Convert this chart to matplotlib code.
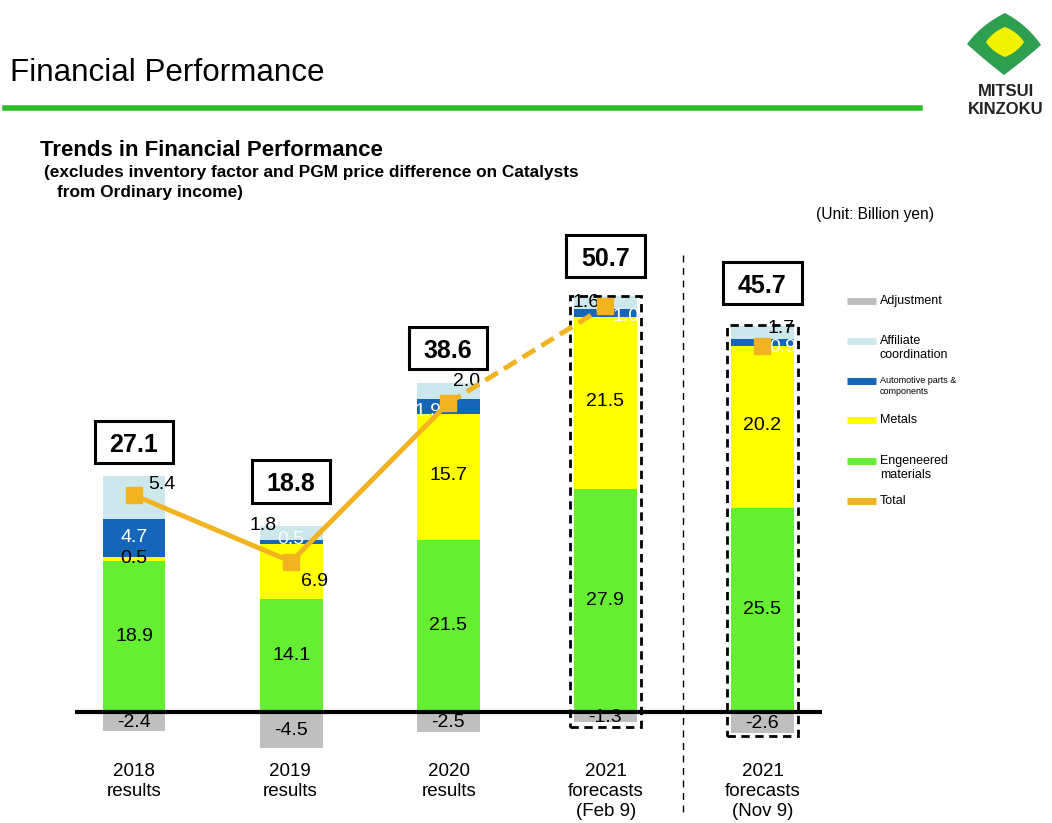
import matplotlib
matplotlib.use("Agg")
import matplotlib.pyplot as plt
from matplotlib.patches import Polygon, Rectangle
from matplotlib.lines import Line2D
import numpy as np

plt.rcParams['font.family'] = ['Liberation Sans', 'DejaVu Sans']

categories = ["2018\nresults", "2019\nresults", "2020\nresults",
              "2021\nforecasts\n(Feb 9)", "2021\nforecasts\n(Nov 9)"]
engineered = [18.9, 14.1, 21.5, 27.9, 25.5]
metals = [0.5, 6.9, 15.7, 21.5, 20.2]
automotive = [4.7, 0.5, 1.9, 1.0, 0.9]
affiliate = [5.4, 1.8, 2.0, 1.6, 1.7]
adjustment = [-2.4, -4.5, -2.5, -1.3, -2.6]
total = [27.1, 18.8, 38.6, 50.7, 45.7]

C_GREEN = "#66EE33"
C_YELLOW = "#FFFF00"
C_BLUE = "#1565B8"
C_LBLUE = "#CDE8EC"
C_GRAY = "#BFBFBF"
C_ORANGE = "#F2B321"

W, H = 1052, 823
fig = plt.figure(figsize=(W / 100, H / 100), dpi=100)

def fx(x):
    return x / W

def fy(y):
    return 1 - y / H

# axes mapping: x pixels 75..822, y pixels 230..760
ax_left, ax_right, ax_top, ax_bot = 75, 822, 230, 760
ax = fig.add_axes([fx(ax_left), fy(ax_bot), (ax_right - ax_left) / W, (ax_bot - ax_top) / H])
ax.set_xlim(-0.376, 4.38)
ax.set_ylim((712 - ax_bot) / 8.0, (712 - ax_top) / 8.0)
ax.axis("off")

x = np.arange(len(categories))
bw = 0.40
eng = np.array(engineered); met = np.array(metals)
aut = np.array(automotive); aff = np.array(affiliate); adj = np.array(adjustment)

ax.bar(x, eng, bw, color=C_GREEN, zorder=2)
ax.bar(x, met, bw, bottom=eng, color=C_YELLOW, zorder=2)
ax.bar(x, aut, bw, bottom=eng + met, color=C_BLUE, zorder=2)
ax.bar(x, aff, bw, bottom=eng + met + aut, color=C_LBLUE, zorder=2)
ax.bar(x, adj, bw, color=C_GRAY, zorder=2)
ax.axhline(0, color="black", lw=3, zorder=4)

# segment labels
fs = 14
for i in range(len(x)):
    ax.text(x[i], eng[i] / 2, f"{eng[i]:.1f}", ha="center", va="center", fontsize=fs, zorder=5)
    ax.text(x[i], adj[i] / 2 - 0.1, f"{adj[i]:.1f}", ha="center", va="center", fontsize=fs, zorder=5)

# metals labels
ax.text(x[0], eng[0] + met[0] / 2, "0.5", ha="center", va="center", fontsize=fs, zorder=5)
ax.text(x[1] + 0.15, eng[1] + 2.2, "6.9", ha="center", va="center", fontsize=fs, zorder=5)
for i in [2, 3, 4]:
    ax.text(x[i], eng[i] + met[i] / 2 + 0.2, f"{met[i]:.1f}", ha="center", va="center", fontsize=fs, zorder=5)

# automotive labels (white)
auto_pos = [(x[0], eng[0] + met[0] + aut[0] / 2), (x[1], eng[1] + met[1] + 0.5),
            (x[2] - 0.13, eng[2] + met[2] + 0.4), (x[3] + 0.13, eng[3] + met[3] + 0.0),
            (x[4] + 0.13, eng[4] + met[4] - 0.2)]
for i, (px_, py_) in enumerate(auto_pos):
    ax.text(px_, py_, f"{aut[i]:.1f}", ha="center", va="center", fontsize=fs, color="white", zorder=5)

# affiliate labels
aff_pos = [(x[0] + 0.18, 28.4), (x[1] - 0.18, 23.3), (x[2] + 0.12, 41.3),
           (x[3] - 0.12, 51.2), (x[4] + 0.12, 47.9)]
for i, (px_, py_) in enumerate(aff_pos):
    ax.text(px_, py_, f"{aff[i]:.1f}", ha="center", va="center", fontsize=fs, zorder=6)

# total line
ax.plot(x[:3], total[:3], color=C_ORANGE, lw=3.5, zorder=7)
ax.plot(x[2:4], total[2:4], color=C_ORANGE, lw=3.5, ls=(0, (3, 1.5)), zorder=7)
ax.plot(x, total, ls="none", marker="s", ms=11, color=C_ORANGE, zorder=8)

# total boxes (layout: box centre heights in axis units)
box_y = [33.75, 28.8, 45.5, 57.0, 53.6]
box_w, box_h = 0.50, 5.3
for i in range(len(x)):
    ax.add_patch(Rectangle((x[i] - box_w / 2, box_y[i] - box_h / 2), box_w, box_h,
                           fc="white", ec="black", lw=2.2, zorder=9))
    ax.text(x[i], box_y[i], f"{total[i]:.1f}", ha="center", va="center_baseline",
            fontsize=18, fontweight="bold", zorder=10)

# dashed rectangles around forecasts
for i, (t, b) in zip([3, 4], [(296, 727), (325, 736)]):
    yt = (712 - t) / 8.0; yb = (712 - b) / 8.0
    r = Rectangle((x[i] - 0.225, yb), 0.45, yt - yb, fill=False, ec="black", lw=2,
                  ls=(0, (3, 2)), zorder=6)
    ax.add_patch(r)

# vertical dashed divider
fig.add_artist(Line2D([fx(683), fx(683)], [fy(255), fy(815)], color="black", lw=1,
                      ls=(0, (5, 4))))

# x labels
xlab_px = [134, 290, 449, 606, 763]
for xp, lab in zip(xlab_px, categories):
    fig.text(fx(xp), fy(763), lab, ha="center", va="top", fontsize=13.5, linespacing=1.25)

# header
fig.text(fx(10), fy(73), "Financial Performance", fontsize=22.6, va="center", ha="left")
fig.add_artist(Line2D([fx(5), fx(920)], [fy(108), fy(108)], color="#2DBE2D", lw=4))
fig.text(fx(40), fy(150), "Trends in Financial Performance", fontsize=16, fontweight="bold",
         va="center")
fig.text(fx(44), fy(172), "(excludes inventory factor and PGM price difference on Catalysts",
         fontsize=12.4, fontweight="bold", va="center")
fig.text(fx(57), fy(193), "from Ordinary income)", fontsize=12.4, fontweight="bold", va="center")
fig.text(fx(934), fy(214), "(Unit: Billion yen)", fontsize=11.2, ha="right", va="center")

# legend
leg = [("Adjustment", C_GRAY, 301, 9),
       ("Affiliate\ncoordination", C_LBLUE, 348, 9),
       ("Automotive parts &\ncomponents", C_BLUE, 386, 6.5),
       ("Metals", C_YELLOW, 420, 9),
       ("Engeneered\nmaterials", C_GREEN, 468, 9),
       ("Total", C_ORANGE, 501, 9)]
for lab, col, yp, f in leg:
    ly = yp if "\n" not in lab else yp - (7 if f > 7 else 5)
    fig.add_artist(Line2D([fx(847), fx(876)], [fy(ly), fy(ly)], color=col, lw=5,
                          solid_capstyle="butt"))
    fig.text(fx(880), fy(yp), lab, fontsize=f, va="center", ha="left", linespacing=1.2)

# logo
def curved(pts, bulges, n=14):
    out = []
    c = np.mean(pts, axis=0)
    for k in range(4):
        p0 = np.array(pts[k], float); p1 = np.array(pts[(k + 1) % 4], float)
        mid = (p0 + p1) / 2
        d = mid - c
        d = d / np.linalg.norm(d)
        ctrl = mid + d * bulges[k]
        for t in np.linspace(0, 1, n, endpoint=False):
            q = (1 - t) ** 2 * p0 + 2 * (1 - t) * t * ctrl + t ** 2 * p1
            out.append(q)
    return [(fx(a), fy(b)) for a, b in out]

cx = 1004
outer = [(cx + 1, 13), (cx + 37, 45), (cx, 75), (cx - 37, 44)]
fig.add_artist(Polygon(curved(outer, [6, 1, 1, 6]), closed=True, transform=fig.transFigure,
                       fc="#2E9E4F", ec="none"))
inner = [(1005, 27), (1024, 42), (1005, 57), (986, 42)]
fig.add_artist(Polygon(curved(inner, [4, 4, 4, 4]), closed=True, transform=fig.transFigure,
                       fc="#F2F200", ec="none"))
fig.text(fx(1006), fy(91), "MITSUI", fontsize=12, fontweight="bold", ha="center",
         va="center", color="#222222")
fig.text(fx(1006), fy(110), "KINZOKU", fontsize=12, fontweight="bold", ha="center",
         va="center", color="#222222")

fig.savefig("out.png", dpi=100)
